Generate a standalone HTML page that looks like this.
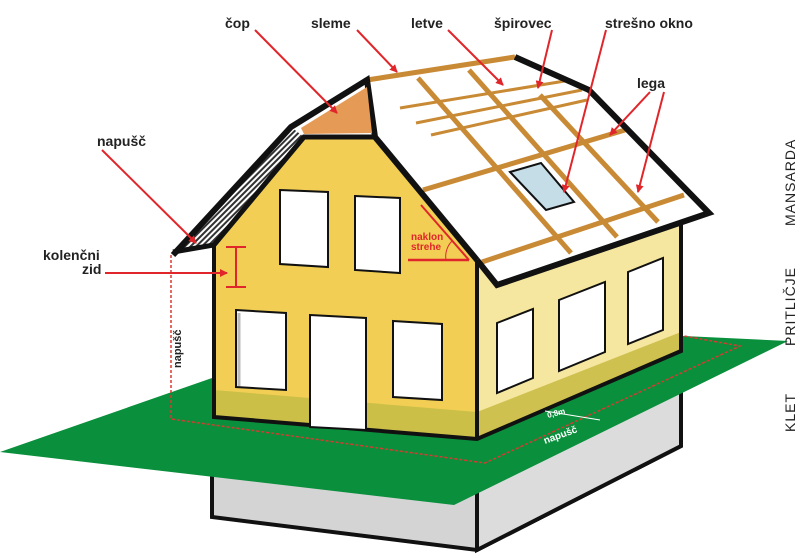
<!DOCTYPE html>
<html><head><meta charset="utf-8"><style>
html,body{margin:0;padding:0;background:#fff}
svg{display:block}
text{font-family:"Liberation Sans",Arial,sans-serif}
</style></head><body>
<svg width="800" height="558" viewBox="0 0 800 558" xmlns="http://www.w3.org/2000/svg">
<defs>
<marker id="ah" markerWidth="8" markerHeight="8" refX="7" refY="4" orient="auto" markerUnits="userSpaceOnUse">
<path d="M0,0 L8,4 L0,8 Z" fill="#e0262a"/></marker>
<pattern id="hatch" width="6" height="4" patternUnits="userSpaceOnUse" patternTransform="rotate(-45)">
<rect width="6" height="4" fill="#fff"/><rect width="6" height="2" fill="#333"/></pattern>
</defs>
<!-- basement -->
<polygon points="212,470 212,517 477,550 681,446 681,380 477,470" fill="#d4d4d4" stroke="#111" stroke-width="4"/>
<polygon points="477,470 477,550 681,446 681,380" fill="#dcdcdc" stroke="#111" stroke-width="4"/>
<!-- green -->
<polygon points="0,452 212,378 684,336 788,341 454,505" fill="#0a8f3c"/>
<!-- side wall -->
<polygon points="477,260 681,205 681,351 477,439" fill="#f6e7a0"/>
<polygon points="477,412 681,332 681,351 477,439" fill="#cfc150"/>
<!-- front wall -->
<polygon points="214,245 304,137 375,137 477,260 477,439 214,417" fill="#f2cf54"/>
<polygon points="214,390 477,412 477,439 214,417" fill="#cbbf48"/>
<polyline points="214,245 214,417 477,439 681,351 681,220" fill="none" stroke="#111" stroke-width="4"/>
<line x1="477" y1="260" x2="477" y2="439" stroke="#111" stroke-width="4"/>
<!-- windows front -->
<g fill="#fff" stroke="#111" stroke-width="2">
<polygon points="280,190 328,192 328,267 280,264"/>
<polygon points="355,196 400,198 400,273 355,270"/>
<polygon points="236,310 286,313 286,390 236,387"/>
<polygon points="310,315 366,318 366,430 310,427"/>
<polygon points="393,321 442,324 442,400 393,397"/>
<polygon points="497,323 533,309 533,378 497,393"/>
<polygon points="559,300 605,282 605,352 559,371"/>
<polygon points="628,272 663,258 663,330 628,344"/>
</g>
<line x1="239" y1="313" x2="239" y2="386" stroke="#bbb" stroke-width="3"/>
<!-- roof -->
<polygon points="367,80 515,57 589,90 709,213 497,285 477,260 375,137" fill="#fff"/>
<g stroke="#c98a35" stroke-width="5" fill="none">
<line x1="367" y1="80" x2="515" y2="57"/>
<line x1="418" y1="78" x2="571" y2="253"/>
<line x1="469" y1="70" x2="617" y2="237"/>
<line x1="540" y1="95" x2="658" y2="222"/>
<line x1="423" y1="190" x2="625" y2="130"/>
<line x1="482" y1="262" x2="684" y2="195"/>
</g>
<g stroke="#c98a35" stroke-width="3" fill="none">
<line x1="400" y1="108" x2="571" y2="80"/>
<line x1="416" y1="123" x2="582" y2="90"/>
<line x1="431" y1="135" x2="587" y2="100"/>
</g>
<polygon points="510,172 541,163 574,202 546,210" fill="#c5dde6" stroke="#111" stroke-width="2"/>
<polyline points="515,57 589,90 709,213 497,285 477,260" fill="none" stroke="#111" stroke-width="6" stroke-linejoin="miter"/>
<!-- gable -->
<polygon points="173,255 291,127 304,137 214,245" fill="url(#hatch)"/>
<polyline points="173,255 291,127 367,80 375,137 477,260" fill="none" stroke="#111" stroke-width="6"/>
<polyline points="173,252 214,245 304,137 375,137" fill="none" stroke="#111" stroke-width="5"/>
<line x1="214" y1="245" x2="214" y2="260" stroke="#111" stroke-width="4"/>
<polygon points="301,128 367,87 372,133 304,134" fill="#e59a55"/>
<!-- dashed napušč -->
<polyline points="171,255 171,419 485,463 740,346 684,336" fill="none" stroke="#d83a30" stroke-width="1.5" stroke-dasharray="3,2"/>
<text transform="translate(181,368) rotate(-90)" font-size="11" font-weight="bold" fill="#222">napušč</text>
<!-- naklon -->
<line x1="421" y1="205" x2="469" y2="260" stroke="#e0262a" stroke-width="2"/>
<line x1="408" y1="260" x2="469" y2="260" stroke="#e0262a" stroke-width="2.5"/>
<path d="M446,260 A22,22 0 0 1 452,241" fill="none" stroke="#e0262a" stroke-width="1"/>
<text x="411" y="240" font-size="10" font-weight="bold" fill="#e0262a">naklon</text>
<text x="411" y="250" font-size="10" font-weight="bold" fill="#e0262a">strehe</text>
<!-- kolenčni dimension -->
<g stroke="#e0262a" stroke-width="2"><line x1="236" y1="247" x2="236" y2="287"/><line x1="226" y1="247" x2="246" y2="247"/><line x1="226" y1="287" x2="246" y2="287"/></g>
<!-- white label -->
<line x1="545" y1="411" x2="600" y2="420" stroke="#fff" stroke-width="1"/>
<text transform="translate(548,418) rotate(-15)" font-size="8" font-weight="bold" fill="#fff">0,8m</text>
<text transform="translate(545,444) rotate(-20)" font-size="10" font-weight="bold" fill="#fff">napušč</text>
<!-- arrows -->
<g stroke="#e0262a" stroke-width="2" marker-end="url(#ah)">
<line x1="255" y1="30" x2="337" y2="113"/>
<line x1="357" y1="30" x2="397" y2="72"/>
<line x1="448" y1="30" x2="503" y2="85"/>
<line x1="552" y1="30" x2="538" y2="88"/>
<line x1="606" y1="30" x2="564" y2="192"/>
<line x1="650" y1="92" x2="610" y2="135"/>
<line x1="664" y1="92" x2="638" y2="192"/>
<line x1="102" y1="150" x2="196" y2="243"/>
<line x1="105" y1="273" x2="227" y2="273"/>
</g>
<g font-size="14" font-weight="bold" fill="#222">
<text x="225" y="28">čop</text>
<text x="311" y="28">sleme</text>
<text x="411" y="28">letve</text>
<text x="494" y="28">špirovec</text>
<text x="605" y="28">strešno okno</text>
<text x="637" y="88">lega</text>
<text x="97" y="146">napušč</text>
<text x="43" y="260">kolenčni</text>
<text x="82" y="274">zid</text>
</g>
<g font-size="14" fill="#222" letter-spacing="1">
<text transform="translate(795,226) rotate(-90)">MANSARDA</text>
<text transform="translate(795,346) rotate(-90)">PRITLIČJE</text>
<text transform="translate(795,432) rotate(-90)">KLET</text>
</g>
</svg>
</body></html>
